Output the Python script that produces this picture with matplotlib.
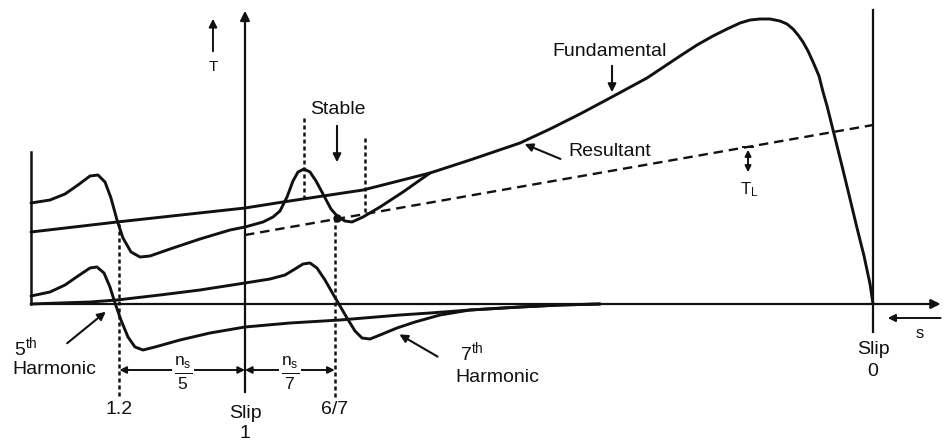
import matplotlib.pyplot as plt

plt.rcParams['font.family'] = ['Liberation Sans', 'DejaVu Sans']
plt.rcParams['mathtext.fontset'] = 'custom'
plt.rcParams['mathtext.rm'] = 'Liberation Sans'
plt.rcParams['mathtext.default'] = 'regular'

# slip (1 = standstill, 0 = synchronous) vs torque
fund_s = [1.3408, 1.2038, 1.0, 0.9395, 0.8121, 0.7054, 0.6417, 0.5621, 0.5143,
          0.4666, 0.4188, 0.3599, 0.3073, 0.2803, 0.2548, 0.2325, 0.2118, 0.1959,
          0.1799, 0.1640, 0.1481, 0.1369, 0.1274, 0.1194, 0.1115, 0.1035, 0.0955,
          0.0860, 0.0796, 0.0732, 0.0605, 0.0478, 0.0366, 0.0255, 0.0143, 0.0048,
          0.0]
fund_T = [0.72, 0.82, 0.96, 1.02, 1.14, 1.31, 1.44, 1.61, 1.75,
          1.90, 2.06, 2.26, 2.48, 2.59, 2.68, 2.75, 2.81, 2.84,
          2.85, 2.85, 2.83, 2.80, 2.75, 2.69, 2.62, 2.53, 2.42,
          2.28, 2.12, 1.98, 1.66, 1.34, 1.05, 0.76, 0.48, 0.20,
          0.0]

res_s = [1.3408, 1.3105, 1.2866, 1.2659, 1.2468, 1.2341, 1.2229, 1.2134, 1.2038,
         1.1943, 1.1815, 1.1672, 1.1513, 1.1194, 1.0717, 1.0239, 1.0, 0.9713,
         0.9554, 0.9443, 0.9331, 0.9236, 0.9156, 0.9061, 0.8965, 0.8869, 0.8758,
         0.8631, 0.8519, 0.8408, 0.8296, 0.8121, 0.7850, 0.7484, 0.7054]
res_T = [1.01, 1.04, 1.10, 1.19, 1.28, 1.29, 1.22, 1.06, 0.84,
         0.66, 0.52, 0.47, 0.48, 0.55, 0.65, 0.74, 0.77, 0.82,
         0.87, 0.93, 1.07, 1.23, 1.32, 1.35, 1.32, 1.23, 1.10,
         0.95, 0.87, 0.83, 0.82, 0.87, 0.97, 1.12, 1.31]

h5_s = [1.3408, 1.3105, 1.2866, 1.2659, 1.2468, 1.2357, 1.2245, 1.2150, 1.2070,
        1.1975, 1.1863, 1.1752, 1.1624, 1.1433, 1.1035, 1.0557, 1.0, 0.9283,
        0.8487, 0.7532, 0.7054, 0.6417, 0.5621, 0.4984, 0.4347]
h5_T = [0.08, 0.12, 0.19, 0.28, 0.36, 0.37, 0.31, 0.17, 0.01,
        -0.16, -0.33, -0.43, -0.46, -0.43, -0.36, -0.29, -0.23, -0.19,
        -0.16, -0.11, -0.09, -0.06, -0.03, -0.01, 0.0]

h7_s = [1.3408, 1.2946, 1.2468, 1.2038, 1.1354, 1.0717, 1.0, 0.9602, 0.9363,
        0.9204, 0.9076, 0.8965, 0.8854, 0.8726, 0.8599, 0.8487, 0.8376, 0.8248,
        0.8137, 0.8010, 0.7850, 0.7580, 0.7293, 0.6895, 0.6417, 0.5621, 0.4984,
        0.4347]
h7_T = [0.0, 0.01, 0.02, 0.04, 0.09, 0.14, 0.21, 0.25, 0.29,
        0.35, 0.40, 0.41, 0.36, 0.24, 0.10, -0.02, -0.14, -0.27,
        -0.34, -0.35, -0.31, -0.24, -0.18, -0.11, -0.06, -0.03, -0.01,
        0.0]

load_s = [1.0, 0.0]
load_T = [0.69, 1.79]

stable_s = 0.853
stable_T = 0.86

fig = plt.figure(figsize=(9.45, 4.46), dpi=100)
ax = fig.add_axes([0, 0, 1, 1])
ax.set_xlim(1.3901, -0.1146)
ax.set_ylim(-1.42, 3.04)
ax.axis('off')

ink = '#111111'
lw = 2.1
fs = 14
curve = dict(color=ink, lw=lw, solid_capstyle='round', solid_joinstyle='round')

# axes of the sketch
ax.annotate('', xy=(-0.112, 0), xytext=(1.3408, 0),
            arrowprops=dict(arrowstyle='-|>', color=ink, lw=1.6, mutation_scale=14))
ax.plot([1.3408, 1.3408], [0, 1.52], color=ink, lw=1.8)
ax.annotate('', xy=(1.0, 2.96), xytext=(1.0, -0.91),
            arrowprops=dict(arrowstyle='-|>', color=ink, lw=1.6, mutation_scale=14))
ax.plot([0.0, 0.0], [-0.28, 2.94], color=ink, lw=1.6)

# torque direction marker
ax.annotate('', xy=(1.051, 2.88), xytext=(1.051, 2.50),
            arrowprops=dict(arrowstyle='-|>', color=ink, lw=1.4, mutation_scale=12))
ax.text(1.051, 2.37, 'T', ha='center', va='center', fontsize=11, color=ink)

# curves
ax.plot(fund_s, fund_T, **curve)
ax.plot(res_s, res_T, **curve)
ax.plot(h5_s, h5_T, **curve)
ax.plot(h7_s, h7_T, **curve)
ax.plot(load_s, load_T, color=ink, lw=1.7, ls=(0, (4, 2.5)))
ax.plot(stable_s, stable_T, 'o', color=ink, ms=5)

# dashed construction lines
vd = dict(color=ink, lw=1.8, ls=(0, (1.6, 1.2)))
ax.plot([1.2, 1.2], [0.80, -0.93], **vd)
ax.plot([6 / 7, 6 / 7], [0.86, -0.95], **vd)
ax.plot([0.9061, 0.9061], [1.86, 1.05], **vd)
ax.plot([0.8089, 0.8089], [1.66, 0.91], **vd)

# labels with pointers
arw = dict(arrowstyle='-|>', color=ink, lw=1.5, mutation_scale=12)
ax.text(0.8519, 1.94, 'Stable', ha='center', va='center', fontsize=fs, color=ink)
ax.annotate('', xy=(0.8535, 1.39), xytext=(0.8535, 1.81), arrowprops=arw)

ax.text(0.4188, 2.52, 'Fundamental', ha='center', va='center', fontsize=fs, color=ink)
ax.annotate('', xy=(0.4156, 2.09), xytext=(0.4156, 2.41), arrowprops=arw)

ax.text(0.4188, 1.52, 'Resultant', ha='center', va='center', fontsize=fs, color=ink)
ax.annotate('', xy=(0.5589, 1.61), xytext=(0.4936, 1.44), arrowprops=arw)

ax.annotate('', xy=(0.199, 1.57), xytext=(0.199, 1.29),
            arrowprops=dict(arrowstyle='<|-|>', color=ink, lw=1.4, mutation_scale=9))
ax.plot([0.207, 0.191], [1.57, 1.57], color=ink, lw=1.4)
ax.text(0.197, 1.14, '$T_L$', ha='center', va='center', fontsize=12, color=ink)

ax.text(1.368, -0.43, '$5^{th}$', ha='left', va='center', fontsize=fs, color=ink)
ax.text(1.371, -0.66, 'Harmonic', ha='left', va='center', fontsize=fs, color=ink)
ax.annotate('', xy=(1.2182, -0.06), xytext=(1.2866, -0.41), arrowprops=arw)

ax.text(0.6576, -0.48, '$7^{th}$', ha='left', va='center', fontsize=fs, color=ink)
ax.text(0.6656, -0.74, 'Harmonic', ha='left', va='center', fontsize=fs, color=ink)
ax.annotate('', xy=(0.758, -0.29), xytext=(0.6895, -0.54), arrowprops=arw)

# slip spacing dimensions
dim = dict(arrowstyle='<|-|>', color=ink, lw=1.4, mutation_scale=10, shrinkA=0, shrinkB=0)
ax.annotate('', xy=(1.0, -0.66), xytext=(1.2, -0.66), arrowprops=dim)
ax.annotate('', xy=(6 / 7, -0.66), xytext=(1.0, -0.66), arrowprops=dim)
box = dict(facecolor='white', edgecolor='none', pad=1)
ax.text(1.0987, -0.69, r'$\frac{n_s}{5}$', ha='center', va='center', fontsize=18, color=ink, bbox=box)
ax.text(0.9283, -0.69, r'$\frac{n_s}{7}$', ha='center', va='center', fontsize=18, color=ink, bbox=box)

ax.text(1.2, -1.06, '1.2', ha='center', va='center', fontsize=fs, color=ink)
ax.text(6 / 7, -1.06, '6/7', ha='center', va='center', fontsize=fs, color=ink)
ax.text(1.0, -1.09, 'Slip', ha='center', va='center', fontsize=fs, color=ink)
ax.text(1.0, -1.29, '1', ha='center', va='center', fontsize=fs, color=ink)
ax.text(0.0, -0.46, 'Slip', ha='center', va='center', fontsize=fs, color=ink)
ax.text(0.0, -0.67, '0', ha='center', va='center', fontsize=fs, color=ink)

ax.annotate('', xy=(-0.019, -0.14), xytext=(-0.112, -0.14),
            arrowprops=dict(arrowstyle='-|>', color=ink, lw=1.4, mutation_scale=11))
ax.text(-0.0748, -0.29, 's', ha='center', va='center', fontsize=12, color=ink)

fig.savefig('out.png', dpi=100, facecolor='white')
